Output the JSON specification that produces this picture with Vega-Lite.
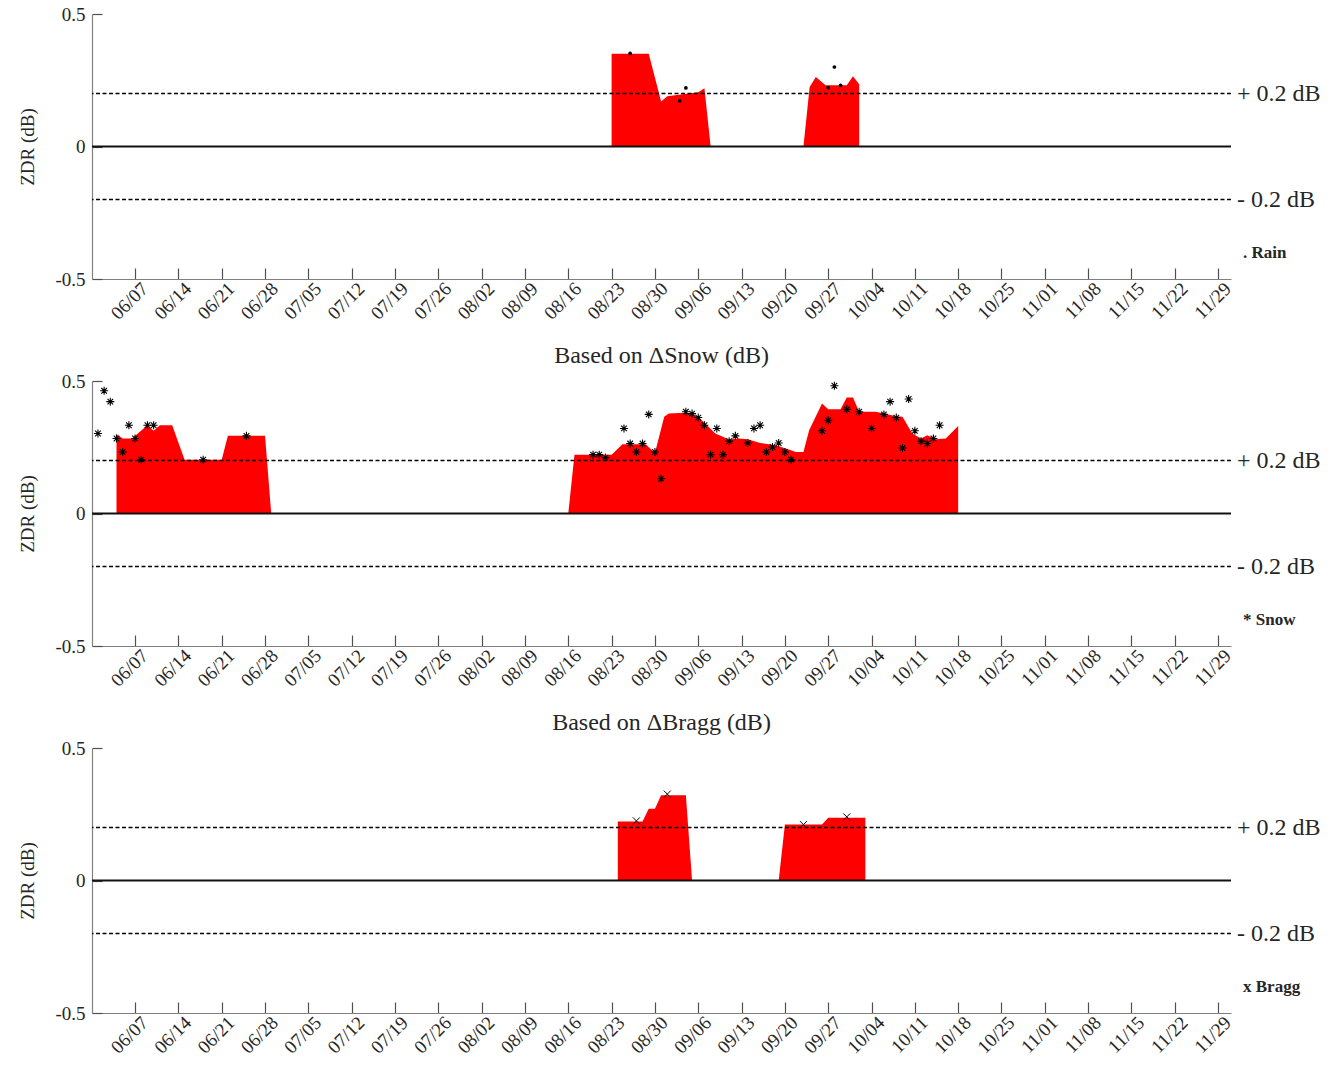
{
  "$schema": "https://vega.github.io/schema/vega-lite/v6.json",
  "padding": {"left": 18, "top": 5, "right": 5, "bottom": 5},
  "background": "white",
  "spacing": 102,
  "bounds": "flush",
  "config": {
    "font": "Liberation Serif",
    "view": {"stroke": null},
    "axis": {
      "grid": false,
      "labelFont": "Liberation Serif",
      "titleFont": "Liberation Serif",
      "domainColor": "#808080",
      "domainWidth": 1.2,
      "tickColor": "#505050",
      "tickWidth": 1.2,
      "labelColor": "#262626",
      "titleColor": "#262626",
      "titleFontWeight": "normal",
      "labelOverlap": false
    },
    "title": {"font": "Liberation Serif", "fontWeight": "normal", "fontSize": 24, "color": "#262626", "offset": 4}
  },
  "datasets": {
    "refs": [{"v": 0.2, "t": "+ 0.2 dB"}, {"v": -0.2, "t": "- 0.2 dB"}],
    "zero": [{"v": 0}],
    "rainLegend": [{"v": -0.4, "t": ". Rain"}],
    "snowLegend": [{"v": -0.4, "t": "* Snow"}],
    "braggLegend": [{"v": -0.4, "t": "x Bragg"}],
    "rainArea": [
      {"seg": 1, "d": "2020-08-23", "v": 0.35},
      {"seg": 1, "d": "2020-08-29", "v": 0.35},
      {"seg": 1, "d": "2020-08-31", "v": 0.17},
      {"seg": 1, "d": "2020-09-01", "v": 0.19},
      {"seg": 1, "d": "2020-09-06", "v": 0.205},
      {"seg": 1, "d": "2020-09-07", "v": 0.22},
      {"seg": 1, "d": "2020-09-08", "v": 0},
      {"seg": 2, "d": "2020-09-23", "v": 0},
      {"seg": 2, "d": "2020-09-24", "v": 0.225},
      {"seg": 2, "d": "2020-09-25", "v": 0.262},
      {"seg": 2, "d": "2020-09-26T14:00Z", "v": 0.231},
      {"seg": 2, "d": "2020-09-30", "v": 0.231},
      {"seg": 2, "d": "2020-10-01", "v": 0.265},
      {"seg": 2, "d": "2020-10-02", "v": 0.235}
    ],
    "rainPts": [
      {"d": "2020-08-26", "v": 0.351},
      {"d": "2020-09-03", "v": 0.172},
      {"d": "2020-09-04", "v": 0.221},
      {"d": "2020-09-27", "v": 0.222},
      {"d": "2020-09-28", "v": 0.30},
      {"d": "2020-09-29", "v": 0.231}
    ],
    "snowArea": [
      {"seg": 1, "d": "2020-06-04", "v": 0.299},
      {"seg": 1, "d": "2020-06-05", "v": 0.283},
      {"seg": 1, "d": "2020-06-06T12:00Z", "v": 0.283},
      {"seg": 1, "d": "2020-06-09", "v": 0.333},
      {"seg": 1, "d": "2020-06-10", "v": 0.312},
      {"seg": 1, "d": "2020-06-11", "v": 0.333},
      {"seg": 1, "d": "2020-06-13", "v": 0.333},
      {"seg": 1, "d": "2020-06-15", "v": 0.203},
      {"seg": 1, "d": "2020-06-21", "v": 0.203},
      {"seg": 1, "d": "2020-06-22", "v": 0.293},
      {"seg": 1, "d": "2020-06-28", "v": 0.293},
      {"seg": 1, "d": "2020-06-29", "v": 0},
      {"seg": 2, "d": "2020-08-16", "v": 0},
      {"seg": 2, "d": "2020-08-17", "v": 0.222},
      {"seg": 2, "d": "2020-08-23", "v": 0.222},
      {"seg": 2, "d": "2020-08-24T18:00Z", "v": 0.261},
      {"seg": 2, "d": "2020-08-28T12:00Z", "v": 0.261},
      {"seg": 2, "d": "2020-08-30", "v": 0.228},
      {"seg": 2, "d": "2020-08-31T12:00Z", "v": 0.365},
      {"seg": 2, "d": "2020-09-01T06:00Z", "v": 0.377},
      {"seg": 2, "d": "2020-09-04", "v": 0.38},
      {"seg": 2, "d": "2020-09-06", "v": 0.365},
      {"seg": 2, "d": "2020-09-08T18:00Z", "v": 0.302},
      {"seg": 2, "d": "2020-09-11", "v": 0.279},
      {"seg": 2, "d": "2020-09-12T14:00Z", "v": 0.283},
      {"seg": 2, "d": "2020-09-14", "v": 0.28},
      {"seg": 2, "d": "2020-09-16", "v": 0.266},
      {"seg": 2, "d": "2020-09-18T12:00Z", "v": 0.258},
      {"seg": 2, "d": "2020-09-20T18:00Z", "v": 0.241},
      {"seg": 2, "d": "2020-09-21T18:00Z", "v": 0.232},
      {"seg": 2, "d": "2020-09-23", "v": 0.232},
      {"seg": 2, "d": "2020-09-23T22:00Z", "v": 0.314},
      {"seg": 2, "d": "2020-09-26", "v": 0.415},
      {"seg": 2, "d": "2020-09-27", "v": 0.393},
      {"seg": 2, "d": "2020-09-29", "v": 0.393},
      {"seg": 2, "d": "2020-09-30", "v": 0.438},
      {"seg": 2, "d": "2020-10-01", "v": 0.438},
      {"seg": 2, "d": "2020-10-02", "v": 0.384},
      {"seg": 2, "d": "2020-10-04T16:00Z", "v": 0.384},
      {"seg": 2, "d": "2020-10-08", "v": 0.367},
      {"seg": 2, "d": "2020-10-09", "v": 0.365},
      {"seg": 2, "d": "2020-10-10T14:00Z", "v": 0.302},
      {"seg": 2, "d": "2020-10-12", "v": 0.283},
      {"seg": 2, "d": "2020-10-13", "v": 0.295},
      {"seg": 2, "d": "2020-10-14T10:00Z", "v": 0.28},
      {"seg": 2, "d": "2020-10-16", "v": 0.283},
      {"seg": 2, "d": "2020-10-18", "v": 0.33}
    ],
    "snowPts": [
      {"d": "2020-06-01", "v": 0.302},
      {"d": "2020-06-02", "v": 0.463},
      {"d": "2020-06-03", "v": 0.422},
      {"d": "2020-06-04", "v": 0.283},
      {"d": "2020-06-05", "v": 0.232},
      {"d": "2020-06-06", "v": 0.333},
      {"d": "2020-06-07", "v": 0.283},
      {"d": "2020-06-08", "v": 0.203},
      {"d": "2020-06-09", "v": 0.333},
      {"d": "2020-06-10", "v": 0.333},
      {"d": "2020-06-18", "v": 0.203},
      {"d": "2020-06-25", "v": 0.293},
      {"d": "2020-08-20", "v": 0.222},
      {"d": "2020-08-21", "v": 0.222},
      {"d": "2020-08-22", "v": 0.211},
      {"d": "2020-08-25", "v": 0.321},
      {"d": "2020-08-26", "v": 0.264},
      {"d": "2020-08-27", "v": 0.232},
      {"d": "2020-08-28", "v": 0.264},
      {"d": "2020-08-29", "v": 0.374},
      {"d": "2020-08-30", "v": 0.232},
      {"d": "2020-08-31", "v": 0.131},
      {"d": "2020-09-04", "v": 0.384},
      {"d": "2020-09-05", "v": 0.377},
      {"d": "2020-09-06", "v": 0.362},
      {"d": "2020-09-07", "v": 0.333},
      {"d": "2020-09-08", "v": 0.222},
      {"d": "2020-09-09", "v": 0.321},
      {"d": "2020-09-10", "v": 0.222},
      {"d": "2020-09-11", "v": 0.273},
      {"d": "2020-09-12", "v": 0.293},
      {"d": "2020-09-14", "v": 0.266},
      {"d": "2020-09-15", "v": 0.321},
      {"d": "2020-09-16", "v": 0.333},
      {"d": "2020-09-17", "v": 0.232},
      {"d": "2020-09-18", "v": 0.251},
      {"d": "2020-09-19", "v": 0.266},
      {"d": "2020-09-20", "v": 0.232},
      {"d": "2020-09-21", "v": 0.203},
      {"d": "2020-09-26", "v": 0.312},
      {"d": "2020-09-27", "v": 0.352},
      {"d": "2020-09-28", "v": 0.482},
      {"d": "2020-09-30", "v": 0.393},
      {"d": "2020-10-02", "v": 0.384},
      {"d": "2020-10-04", "v": 0.321},
      {"d": "2020-10-06", "v": 0.374},
      {"d": "2020-10-07", "v": 0.422},
      {"d": "2020-10-08", "v": 0.362},
      {"d": "2020-10-09", "v": 0.247},
      {"d": "2020-10-10", "v": 0.432},
      {"d": "2020-10-11", "v": 0.312},
      {"d": "2020-10-12", "v": 0.273},
      {"d": "2020-10-13", "v": 0.264},
      {"d": "2020-10-14", "v": 0.283},
      {"d": "2020-10-15", "v": 0.333}
    ],
    "braggArea": [
      {"seg": 1, "d": "2020-08-24", "v": 0.223},
      {"seg": 1, "d": "2020-08-28", "v": 0.223},
      {"seg": 1, "d": "2020-08-29", "v": 0.271},
      {"seg": 1, "d": "2020-08-30", "v": 0.271},
      {"seg": 1, "d": "2020-08-31", "v": 0.322},
      {"seg": 1, "d": "2020-09-04", "v": 0.322},
      {"seg": 1, "d": "2020-09-05", "v": 0},
      {"seg": 2, "d": "2020-09-19", "v": 0},
      {"seg": 2, "d": "2020-09-20", "v": 0.211},
      {"seg": 2, "d": "2020-09-26", "v": 0.211},
      {"seg": 2, "d": "2020-09-27", "v": 0.237},
      {"seg": 2, "d": "2020-10-03", "v": 0.237}
    ],
    "braggPts": [
      {"d": "2020-08-27", "v": 0.225},
      {"d": "2020-09-01", "v": 0.326},
      {"d": "2020-09-23", "v": 0.211},
      {"d": "2020-09-30", "v": 0.24}
    ]
  },
  "vconcat": [
    {
      "width": 1139, "height": 265,
      "layer": [
        {"data": {"name": "rainArea"}, "mark": {"type": "area", "color": "#ff0000", "opacity": 1},
         "encoding": {
           "x": {"field": "d", "type": "temporal",
                 "scale": {"type": "utc", "domain": [{"year": 2020, "month": 5, "date": 31, "hours": 1, "utc": true}, {"year": 2020, "month": 12, "date": 1, "hours": 2, "utc": true}]},
                 "axis": {"title": null, "format": "%m/%d", "labelAngle": -45, "labelFontSize": 19, "tickSize": -11, "labelPadding": 11, "labelOffset": 3, "labelOverlap": false,
                          "values": [{"year":2020,"month":6,"date":7,"utc":true},{"year":2020,"month":6,"date":14,"utc":true},{"year":2020,"month":6,"date":21,"utc":true},{"year":2020,"month":6,"date":28,"utc":true},{"year":2020,"month":7,"date":5,"utc":true},{"year":2020,"month":7,"date":12,"utc":true},{"year":2020,"month":7,"date":19,"utc":true},{"year":2020,"month":7,"date":26,"utc":true},{"year":2020,"month":8,"date":2,"utc":true},{"year":2020,"month":8,"date":9,"utc":true},{"year":2020,"month":8,"date":16,"utc":true},{"year":2020,"month":8,"date":23,"utc":true},{"year":2020,"month":8,"date":30,"utc":true},{"year":2020,"month":9,"date":6,"utc":true},{"year":2020,"month":9,"date":13,"utc":true},{"year":2020,"month":9,"date":20,"utc":true},{"year":2020,"month":9,"date":27,"utc":true},{"year":2020,"month":10,"date":4,"utc":true},{"year":2020,"month":10,"date":11,"utc":true},{"year":2020,"month":10,"date":18,"utc":true},{"year":2020,"month":10,"date":25,"utc":true},{"year":2020,"month":11,"date":1,"utc":true},{"year":2020,"month":11,"date":8,"utc":true},{"year":2020,"month":11,"date":15,"utc":true},{"year":2020,"month":11,"date":22,"utc":true},{"year":2020,"month":11,"date":29,"utc":true}]}},
           "y": {"field": "v", "type": "quantitative", "stack": null,
                 "scale": {"domain": [-0.5, 0.5], "nice": false, "zero": false},
                 "axis": {"title": "ZDR (dB)", "titleFontSize": 19, "labelFontSize": 19, "values": [-0.5, 0, 0.5], "tickSize": -10, "labelPadding": 17, "titlePadding": 17,
                          "labelExpr": "datum.value > 0 ? '0.5' : (datum.value < 0 ? '-0.5' : '0')"}},
           "y2": {"datum": 0},
           "detail": {"field": "seg"}
         }},
        {"data": {"name": "refs"}, "mark": {"type": "rule", "color": "black", "strokeWidth": 1.5, "strokeDash": [4, 2.5]},
         "encoding": {"y": {"field": "v", "type": "quantitative"}}},
        {"data": {"name": "zero"}, "mark": {"type": "rule", "color": "#111111", "strokeWidth": 2},
         "encoding": {"y": {"field": "v", "type": "quantitative"}}},
        {"data": {"name": "rainPts"}, "mark": {"type": "circle", "size": 14, "color": "black", "opacity": 1},
         "encoding": {"x": {"field": "d", "type": "temporal"}, "y": {"field": "v", "type": "quantitative"}}},
        {"data": {"name": "refs"}, "mark": {"type": "text", "align": "left", "baseline": "middle", "dx": 6, "fontSize": 24, "color": "#262626"},
         "encoding": {"x": {"datum": {"year": 2020, "month": 12, "date": 1, "hours": 2, "utc": true}, "type": "temporal"}, "y": {"field": "v", "type": "quantitative"}, "text": {"field": "t"}}},
        {"data": {"name": "rainLegend"}, "mark": {"type": "text", "align": "left", "baseline": "middle", "dx": 12, "fontSize": 17, "fontWeight": "bold", "color": "#262626"},
         "encoding": {"x": {"datum": {"year": 2020, "month": 12, "date": 1, "hours": 2, "utc": true}, "type": "temporal"}, "y": {"field": "v", "type": "quantitative"}, "text": {"field": "t"}}}
      ]
    },
    {
      "width": 1139, "height": 265,
      "title": {"text": "Based on ΔSnow (dB)"},
      "layer": [
        {"data": {"name": "snowArea"}, "mark": {"type": "area", "color": "#ff0000", "opacity": 1},
         "encoding": {
           "x": {"field": "d", "type": "temporal",
                 "scale": {"type": "utc", "domain": [{"year": 2020, "month": 5, "date": 31, "hours": 1, "utc": true}, {"year": 2020, "month": 12, "date": 1, "hours": 2, "utc": true}]},
                 "axis": {"title": null, "format": "%m/%d", "labelAngle": -45, "labelFontSize": 19, "tickSize": -11, "labelPadding": 11, "labelOffset": 3, "labelOverlap": false,
                          "values": [{"year":2020,"month":6,"date":7,"utc":true},{"year":2020,"month":6,"date":14,"utc":true},{"year":2020,"month":6,"date":21,"utc":true},{"year":2020,"month":6,"date":28,"utc":true},{"year":2020,"month":7,"date":5,"utc":true},{"year":2020,"month":7,"date":12,"utc":true},{"year":2020,"month":7,"date":19,"utc":true},{"year":2020,"month":7,"date":26,"utc":true},{"year":2020,"month":8,"date":2,"utc":true},{"year":2020,"month":8,"date":9,"utc":true},{"year":2020,"month":8,"date":16,"utc":true},{"year":2020,"month":8,"date":23,"utc":true},{"year":2020,"month":8,"date":30,"utc":true},{"year":2020,"month":9,"date":6,"utc":true},{"year":2020,"month":9,"date":13,"utc":true},{"year":2020,"month":9,"date":20,"utc":true},{"year":2020,"month":9,"date":27,"utc":true},{"year":2020,"month":10,"date":4,"utc":true},{"year":2020,"month":10,"date":11,"utc":true},{"year":2020,"month":10,"date":18,"utc":true},{"year":2020,"month":10,"date":25,"utc":true},{"year":2020,"month":11,"date":1,"utc":true},{"year":2020,"month":11,"date":8,"utc":true},{"year":2020,"month":11,"date":15,"utc":true},{"year":2020,"month":11,"date":22,"utc":true},{"year":2020,"month":11,"date":29,"utc":true}]}},
           "y": {"field": "v", "type": "quantitative", "stack": null,
                 "scale": {"domain": [-0.5, 0.5], "nice": false, "zero": false},
                 "axis": {"title": "ZDR (dB)", "titleFontSize": 19, "labelFontSize": 19, "values": [-0.5, 0, 0.5], "tickSize": -10, "labelPadding": 17, "titlePadding": 17,
                          "labelExpr": "datum.value > 0 ? '0.5' : (datum.value < 0 ? '-0.5' : '0')"}},
           "y2": {"datum": 0},
           "detail": {"field": "seg"}
         }},
        {"data": {"name": "refs"}, "mark": {"type": "rule", "color": "black", "strokeWidth": 1.5, "strokeDash": [4, 2.5]},
         "encoding": {"y": {"field": "v", "type": "quantitative"}}},
        {"data": {"name": "zero"}, "mark": {"type": "rule", "color": "#111111", "strokeWidth": 2},
         "encoding": {"y": {"field": "v", "type": "quantitative"}}},
        {"data": {"name": "snowPts"}, "mark": {"type": "point", "shape": "M0,-1L0,1M-1,0L1,0M-0.7,-0.7L0.7,0.7M-0.7,0.7L0.7,-0.7", "size": 64, "filled": false, "stroke": "black", "strokeWidth": 1.1, "opacity": 1},
         "encoding": {"x": {"field": "d", "type": "temporal"}, "y": {"field": "v", "type": "quantitative"}}},
        {"data": {"name": "refs"}, "mark": {"type": "text", "align": "left", "baseline": "middle", "dx": 6, "fontSize": 24, "color": "#262626"},
         "encoding": {"x": {"datum": {"year": 2020, "month": 12, "date": 1, "hours": 2, "utc": true}, "type": "temporal"}, "y": {"field": "v", "type": "quantitative"}, "text": {"field": "t"}}},
        {"data": {"name": "snowLegend"}, "mark": {"type": "text", "align": "left", "baseline": "middle", "dx": 12, "fontSize": 17, "fontWeight": "bold", "color": "#262626"},
         "encoding": {"x": {"datum": {"year": 2020, "month": 12, "date": 1, "hours": 2, "utc": true}, "type": "temporal"}, "y": {"field": "v", "type": "quantitative"}, "text": {"field": "t"}}}
      ]
    },
    {
      "width": 1139, "height": 265,
      "title": {"text": "Based on ΔBragg (dB)"},
      "layer": [
        {"data": {"name": "braggArea"}, "mark": {"type": "area", "color": "#ff0000", "opacity": 1},
         "encoding": {
           "x": {"field": "d", "type": "temporal",
                 "scale": {"type": "utc", "domain": [{"year": 2020, "month": 5, "date": 31, "hours": 1, "utc": true}, {"year": 2020, "month": 12, "date": 1, "hours": 2, "utc": true}]},
                 "axis": {"title": null, "format": "%m/%d", "labelAngle": -45, "labelFontSize": 19, "tickSize": -11, "labelPadding": 11, "labelOffset": 3, "labelOverlap": false,
                          "values": [{"year":2020,"month":6,"date":7,"utc":true},{"year":2020,"month":6,"date":14,"utc":true},{"year":2020,"month":6,"date":21,"utc":true},{"year":2020,"month":6,"date":28,"utc":true},{"year":2020,"month":7,"date":5,"utc":true},{"year":2020,"month":7,"date":12,"utc":true},{"year":2020,"month":7,"date":19,"utc":true},{"year":2020,"month":7,"date":26,"utc":true},{"year":2020,"month":8,"date":2,"utc":true},{"year":2020,"month":8,"date":9,"utc":true},{"year":2020,"month":8,"date":16,"utc":true},{"year":2020,"month":8,"date":23,"utc":true},{"year":2020,"month":8,"date":30,"utc":true},{"year":2020,"month":9,"date":6,"utc":true},{"year":2020,"month":9,"date":13,"utc":true},{"year":2020,"month":9,"date":20,"utc":true},{"year":2020,"month":9,"date":27,"utc":true},{"year":2020,"month":10,"date":4,"utc":true},{"year":2020,"month":10,"date":11,"utc":true},{"year":2020,"month":10,"date":18,"utc":true},{"year":2020,"month":10,"date":25,"utc":true},{"year":2020,"month":11,"date":1,"utc":true},{"year":2020,"month":11,"date":8,"utc":true},{"year":2020,"month":11,"date":15,"utc":true},{"year":2020,"month":11,"date":22,"utc":true},{"year":2020,"month":11,"date":29,"utc":true}]}},
           "y": {"field": "v", "type": "quantitative", "stack": null,
                 "scale": {"domain": [-0.5, 0.5], "nice": false, "zero": false},
                 "axis": {"title": "ZDR (dB)", "titleFontSize": 19, "labelFontSize": 19, "values": [-0.5, 0, 0.5], "tickSize": -10, "labelPadding": 17, "titlePadding": 17,
                          "labelExpr": "datum.value > 0 ? '0.5' : (datum.value < 0 ? '-0.5' : '0')"}},
           "y2": {"datum": 0},
           "detail": {"field": "seg"}
         }},
        {"data": {"name": "refs"}, "mark": {"type": "rule", "color": "black", "strokeWidth": 1.5, "strokeDash": [4, 2.5]},
         "encoding": {"y": {"field": "v", "type": "quantitative"}}},
        {"data": {"name": "zero"}, "mark": {"type": "rule", "color": "#111111", "strokeWidth": 2},
         "encoding": {"y": {"field": "v", "type": "quantitative"}}},
        {"data": {"name": "braggPts"}, "mark": {"type": "point", "shape": "M-1,-1L1,1M-1,1L1,-1", "size": 49, "filled": false, "stroke": "black", "strokeWidth": 1, "opacity": 1},
         "encoding": {"x": {"field": "d", "type": "temporal"}, "y": {"field": "v", "type": "quantitative"}}},
        {"data": {"name": "refs"}, "mark": {"type": "text", "align": "left", "baseline": "middle", "dx": 6, "fontSize": 24, "color": "#262626"},
         "encoding": {"x": {"datum": {"year": 2020, "month": 12, "date": 1, "hours": 2, "utc": true}, "type": "temporal"}, "y": {"field": "v", "type": "quantitative"}, "text": {"field": "t"}}},
        {"data": {"name": "braggLegend"}, "mark": {"type": "text", "align": "left", "baseline": "middle", "dx": 12, "fontSize": 17, "fontWeight": "bold", "color": "#262626"},
         "encoding": {"x": {"datum": {"year": 2020, "month": 12, "date": 1, "hours": 2, "utc": true}, "type": "temporal"}, "y": {"field": "v", "type": "quantitative"}, "text": {"field": "t"}}}
      ]
    }
  ]
}
